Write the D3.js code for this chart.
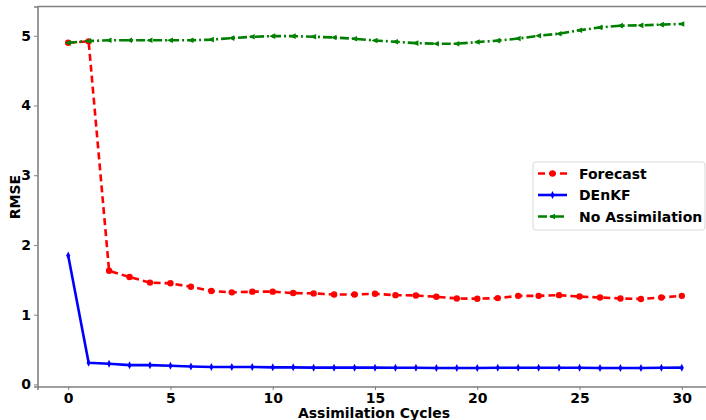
<!DOCTYPE html>
<html>
<head>
<meta charset="utf-8">
<script src="https://cdn.jsdelivr.net/npm/d3@7"></script>
<style>
  body { margin: 0; background: #fff; }
  text { font-family: "DejaVu Sans", sans-serif; font-weight: bold; }
</style>
</head>
<body>
<div id="chart"></div>
<script>
// Width and height
var w = 706;
var h = 420;

// data
var cycles = d3.range(0, 31);
var forecast = [4.90, 4.92, 1.63, 1.54, 1.46, 1.45, 1.40, 1.34, 1.32, 1.33, 1.33, 1.31, 1.305, 1.29, 1.29, 1.30,
    1.28, 1.276, 1.257, 1.233, 1.229, 1.238, 1.27, 1.27, 1.28, 1.26, 1.247, 1.233, 1.224, 1.247, 1.27];
var denkf = [1.85, 0.31, 0.297, 0.276, 0.276, 0.267, 0.257, 0.25, 0.25, 0.25, 0.245, 0.245, 0.24, 0.24, 0.24, 0.24,
    0.238, 0.238, 0.235, 0.235, 0.235, 0.238, 0.238, 0.238, 0.238, 0.238, 0.235, 0.235, 0.235, 0.238, 0.24];
var noAssim = [4.90, 4.925, 4.935, 4.935, 4.935, 4.935, 4.935, 4.945, 4.967, 4.986, 4.995, 4.995, 4.986, 4.976, 4.957, 4.933,
    4.914, 4.895, 4.886, 4.886, 4.91, 4.93, 4.96, 5.0, 5.03, 5.08, 5.12, 5.145, 5.15, 5.16, 5.17];
var xTicks = [0, 5, 10, 15, 20, 25, 30];
var yTicks = [0, 1, 2, 3, 4, 5];
var seriesNames = ["Forecast", "DEnKF", "No Assimilation"];

var svg = d3.select("#chart")
    .append("svg")
    .attr("width", w)
    .attr("height", h);

// scales (matplotlib-like 5% margins)
var xScale = d3.scaleLinear()
    .domain([-1.5, 31.5])
    .range([37.5, 712.5]);

var yScale = d3.scaleLinear()
    .domain([-0.03, 5.42])
    .range([386.5, 6.5]);

var series = [
    { name: seriesNames[0], values: forecast, color: "#ff0000", dash: "7,4", marker: "circle" },
    { name: seriesNames[1], values: denkf, color: "#0000ff", dash: null, marker: "diamond" },
    { name: seriesNames[2], values: noAssim, color: "#008000", dash: "9,3,2,3", marker: "tri" }
];

var line = d3.line()
    .x(function (d, i) { return xScale(cycles[i]); })
    .y(function (d) { return yScale(d); });

function drawMarker(g, type, color, x, y) {
    if (type === "circle") {
        g.append("circle").attr("cx", x).attr("cy", y).attr("r", 3.2).attr("fill", color);
    } else if (type === "diamond") {
        g.append("path")
            .attr("d", "M" + x + "," + (y - 4) + "L" + (x + 2) + "," + y + "L" + x + "," + (y + 4) + "L" + (x - 2) + "," + y + "Z")
            .attr("fill", color);
    } else {
        g.append("path")
            .attr("d", "M" + (x - 3.5) + "," + y + "L" + (x + 2.5) + "," + (y - 2.8) + "L" + (x + 2.5) + "," + (y + 2.8) + "Z")
            .attr("fill", color);
    }
}

var plot = svg.append("g");

series.forEach(function (s) {
    plot.append("path")
        .datum(s.values)
        .attr("d", line)
        .attr("fill", "none")
        .attr("stroke", s.color)
        .attr("stroke-width", 2.6)
        .attr("stroke-dasharray", s.dash);
    var mg = plot.append("g");
    s.values.forEach(function (v, i) {
        drawMarker(mg, s.marker, s.color, xScale(cycles[i]), yScale(v));
    });
});

// axes
var xAxis = d3.axisBottom(xScale)
    .tickValues(xTicks)
    .tickFormat(d3.format("d"))
    .tickSize(3.5)
    .tickPadding(3);

var yAxis = d3.axisLeft(yScale)
    .tickValues(yTicks)
    .tickFormat(d3.format("d"))
    .tickSize(3.5)
    .tickPadding(3);

var gx = svg.append("g")
    .attr("transform", "translate(0," + yScale.range()[0] + ")")
    .call(xAxis);

var gy = svg.append("g")
    .attr("transform", "translate(" + xScale.range()[0] + ",0)")
    .call(yAxis);

[gx, gy].forEach(function (g) {
    g.attr("font-family", null).attr("font-size", null);
    g.select(".domain").attr("stroke", "#808080").attr("stroke-width", 1.6);
    g.selectAll(".tick line").attr("stroke", "#808080");
    g.selectAll(".tick text")
        .attr("fill", "#000")
        .style("font-size", "14px")
        .style("font-family", "DejaVu Sans")
        .style("font-weight", "bold");
});

// top spine
svg.append("line")
    .attr("x1", xScale.range()[0]).attr("x2", w)
    .attr("y1", yScale.range()[1]).attr("y2", yScale.range()[1])
    .attr("stroke", "#808080").attr("stroke-width", 1.6);

// axis labels
svg.append("text")
    .attr("x", 374)
    .attr("y", 417.5)
    .attr("text-anchor", "middle")
    .style("font-size", "14px")
    .text("Assimilation Cycles");

svg.append("text")
    .attr("transform", "translate(20," + 197 + ") rotate(-90)")
    .attr("text-anchor", "middle")
    .style("font-size", "14px")
    .text("RMSE");

// legend
var lg = svg.append("g").attr("transform", "translate(533,162)");
lg.append("rect")
    .attr("width", 172).attr("height", 68)
    .attr("rx", 3)
    .attr("fill", "#fff").attr("fill-opacity", 0.8)
    .attr("stroke", "#d9d9d9");

series.forEach(function (s, i) {
    var yy = 11.5 + i * 21.5;
    lg.append("line")
        .attr("x1", 5).attr("x2", 34)
        .attr("y1", yy).attr("y2", yy)
        .attr("stroke", s.color)
        .attr("stroke-width", 2.6)
        .attr("stroke-dasharray", s.dash);
    drawMarker(lg, s.marker, s.color, 19.5, yy);
    lg.append("text")
        .attr("x", 46)
        .attr("y", yy + 5)
        .style("font-size", "14px")
        .text(s.name);
});
</script>
</body>
</html>
